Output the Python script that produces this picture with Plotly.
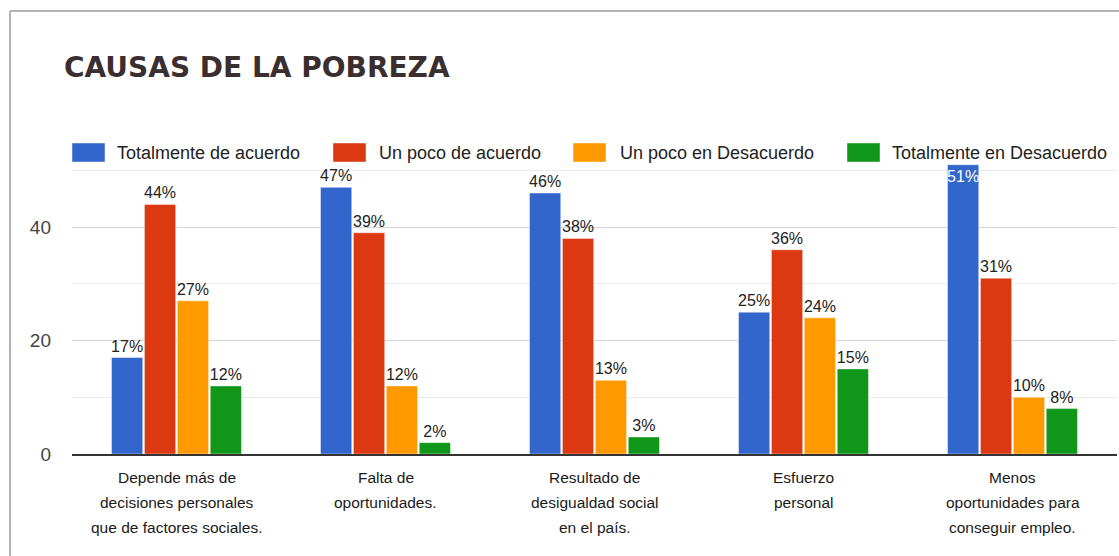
import plotly.graph_objects as go

# data (percentages)
categorias = [
    "Depende más de<br>decisiones personales<br>que de factores sociales.",
    "Falta de<br>oportunidades.",
    "Resultado de<br>desigualdad social<br>en el país.",
    "Esfuerzo<br>personal",
    "Menos<br>oportunidades para<br>conseguir empleo.",
]
series = [
    "Totalmente de acuerdo",
    "Un poco de acuerdo",
    "Un poco en Desacuerdo",
    "Totalmente en Desacuerdo",
]
totalmente_acuerdo = [17, 47, 46, 25, 51]
poco_acuerdo = [44, 39, 38, 36, 31]
poco_desacuerdo = [27, 12, 13, 24, 10]
totalmente_desacuerdo = [12, 2, 3, 15, 8]

colores = ["#3366CC", "#DC3912", "#FF9900", "#109618"]
valores = [totalmente_acuerdo, poco_acuerdo, poco_desacuerdo, totalmente_desacuerdo]

W, H = 1119, 556
ML, MR, MT, MB = 72, 2, 159, 102
PW, PH = W - ML - MR, H - MT - MB
FONT = "Liberation Sans, Arial, sans-serif"


def px_x(x):
    return (x - ML) / PW


def px_y(y):
    return (H - MB - y) / PH


fig = go.Figure()
for nombre, vals, color in zip(series, valores, colores):
    # the tallest bar has no room above it, so its label goes inside
    pos = ["inside" if v >= 50 else "outside" for v in vals]
    fig.add_trace(go.Bar(
        x=list(range(len(categorias))), y=vals, name=nombre,
        marker=dict(color=color, line=dict(color="rgba(255,255,255,0.45)", width=1)),
        text=[f"{v}%" for v in vals], textposition=pos, textangle=0,
        insidetextanchor="end",
        insidetextfont=dict(family=FONT, size=16, color="white"),
        outsidetextfont=dict(family=FONT, size=16, color="#222222"),
        cliponaxis=False, showlegend=False,
    ))

# legend drawn by hand to get the large swatches
leg_box_x = [72, 333, 573, 847]
leg_txt_x = [115, 377, 618, 890]
shapes = []
annotations = []
for nombre, color, bx, tx in zip(series, colores, leg_box_x, leg_txt_x):
    shapes.append(dict(type="rect", xref="paper", yref="paper",
                       x0=px_x(bx), x1=px_x(bx + 33), y0=px_y(162), y1=px_y(143),
                       fillcolor=color, line=dict(color="rgba(255,255,255,0.45)", width=1)))
    annotations.append(dict(text=nombre, xref="paper", yref="paper",
                            x=px_x(tx), y=px_y(153), xanchor="left", yanchor="middle",
                            showarrow=False, font=dict(family=FONT, size=18, color="#222222")))

# category labels, one annotation per line for the wider line spacing
for i, cat in enumerate(categorias):
    for j, linea in enumerate(cat.split("<br>")):
        annotations.append(dict(text=linea, xref="x", yref="paper",
                                x=i, y=px_y(477 + 25 * j), xanchor="center", yanchor="middle",
                                showarrow=False, font=dict(family=FONT, size=15.5, color="#1a1a1a")))

# card border (top and left edges visible)
shapes.append(dict(type="line", xref="paper", yref="paper",
                   x0=px_x(10), x1=px_x(W + 5), y0=px_y(11), y1=px_y(11),
                   line=dict(color="#b3b3b3", width=2)))
shapes.append(dict(type="line", xref="paper", yref="paper",
                   x0=px_x(10), x1=px_x(10), y0=px_y(11), y1=px_y(H + 5),
                   line=dict(color="#b3b3b3", width=2)))

annotations.append(dict(text="<b>CAUSAS DE LA POBREZA</b>", xref="paper", yref="paper",
                        x=px_x(62), y=px_y(67), xanchor="left", yanchor="middle",
                        showarrow=False,
                        font=dict(family="DejaVu Sans", size=28, color="#3a2e2f")))

fig.update_layout(
    width=W, height=H,
    margin=dict(l=ML, r=MR, t=MT, b=MB),
    paper_bgcolor="white", plot_bgcolor="white",
    barmode="group", bargap=0.37, bargroupgap=0.05,
    shapes=shapes, annotations=annotations,
    font=dict(family=FONT, color="#222222"),
    uniformtext=dict(minsize=16, mode="show"),
)
fig.update_xaxes(
    range=[-0.5, 4.5], tickvals=list(range(len(categorias))),
    showticklabels=False,
    showline=True, linecolor="#333333", linewidth=1.5, showgrid=False,
    ticks="", fixedrange=True,
)
fig.update_yaxes(
    range=[0, 52], tickvals=[0, 20, 40], showgrid=True, gridcolor="#d6d6d6",
    minor=dict(tickvals=[10, 30, 50], showgrid=True, gridcolor="#ebebeb"),
    zeroline=False, tickfont=dict(family=FONT, size=19, color="#444444"),
    ticklabelstandoff=20, fixedrange=True,
)

fig.write_html("out.html", config={"displayModeBar": False},
               post_script="document.body.style.margin='0';")
